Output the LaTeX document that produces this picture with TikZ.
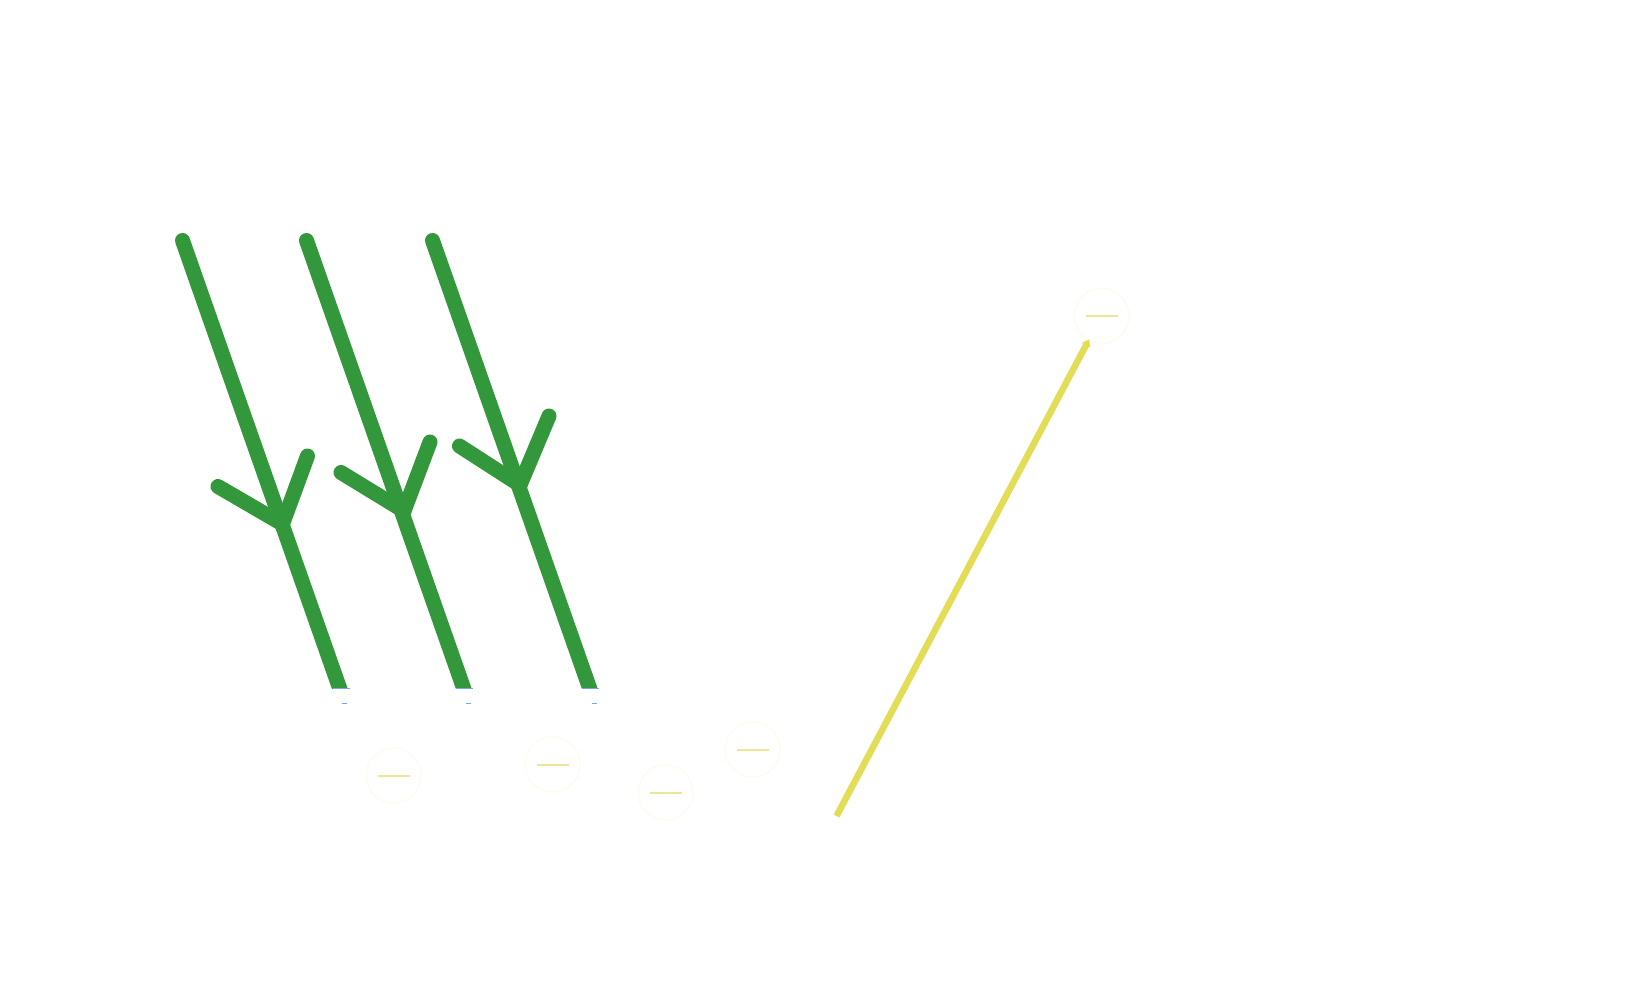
\documentclass[tikz,border=0pt]{standalone}
\usetikzlibrary{arrows.meta}
\definecolor{treegreen}{RGB}{51,152,59}
\definecolor{wireyellow}{RGB}{227,220,85}
\definecolor{dashyellow}{RGB}{236,230,150}
\definecolor{ringpale}{RGB}{253,252,243}
\definecolor{edgeblue}{RGB}{120,165,240}
\tikzset{
  stem/.style={line width=15pt, color=treegreen, line cap=round},
  twig/.style={line width=15pt, color=treegreen, line cap=round},
  ring/.style={circle, draw=ringpale, line width=2pt, minimum size=55pt, inner sep=0pt},
  bar/.style={line width=2pt, color=dashyellow},
  wire/.style={line width=6.5pt, color=wireyellow, -{Stealth[length=7pt,width=10pt]}, shorten >=-2pt},
  bluetick/.style={line width=1pt, color=edgeblue},
}
\begin{document}
\begin{tikzpicture}[x=1pt,y=-1pt]
\useasboundingbox (0,0) rectangle (1645,984);
% tree coordinates
\coordinate (t1top) at (182.5,240.5);
\coordinate (t1bot) at (345.5,705);
\coordinate (t1j) at (282.5,524);
\coordinate (t1l) at (218,486.5);
\coordinate (t1r) at (307.5,456);
\coordinate (t2top) at (306.5,240.5);
\coordinate (t2bot) at (469.5,705);
\coordinate (t2j) at (404,511);
\coordinate (t2l) at (341,472.5);
\coordinate (t2r) at (430,442);
\coordinate (t3top) at (432.5,240.5);
\coordinate (t3bot) at (595.5,705);
\coordinate (t3j) at (520,485);
\coordinate (t3l) at (459.5,446);
\coordinate (t3r) at (549,416);
\begin{scope}
  \clip (0,0) rectangle (1645,688.5);
  \draw[stem] (t1top) -- (t1bot);
  \draw[stem] (t2top) -- (t2bot);
  \draw[stem] (t3top) -- (t3bot);
\end{scope}
\draw[twig] (t1l) -- (t1j);
\draw[twig] (t1r) -- (t1j);
\draw[twig] (t2l) -- (t2j);
\draw[twig] (t2r) -- (t2j);
\draw[twig] (t3l) -- (t3j);
\draw[twig] (t3r) -- (t3j);
% blue marks at the cut ends
\coordinate (b1) at (341.5,688.5);
\coordinate (b2) at (464.5,688.5);
\coordinate (b3) at (590.5,688.5);
\draw[bluetick] ([xshift=-8.5]b1) -- ([xshift=8.5]b1);
\draw[bluetick] ([xshift=-8.5]b2) -- ([xshift=8.5]b2);
\draw[bluetick] ([xshift=-8.5]b3) -- ([xshift=8.5]b3);
\draw[bluetick] ([xshift=0,yshift=-14.5]b1) -- ([xshift=5,yshift=-14.5]b1);
\draw[bluetick] ([xshift=1,yshift=-14.5]b2) -- ([xshift=6,yshift=-14.5]b2);
\draw[bluetick] ([xshift=1,yshift=-14.5]b3) -- ([xshift=6,yshift=-14.5]b3);
% rings with bars
\node[ring] (c1) at (393.5,775.5) {};
\node[ring] (c2) at (552.5,764.5) {};
\node[ring] (c3) at (665.5,792.5) {};
\node[ring] (c4) at (752.5,749.5) {};
\node[ring] (c5) at (1101.5,316) {};
\foreach \c in {c1,c2,c3,c4,c5}{
  \draw[bar] ([xshift=-16]\c.center) -- ([xshift=16]\c.center);
}
% yellow wire
\coordinate (ws) at (836.5,816);
\draw[wire] (ws) -- (c5);
\end{tikzpicture}
\end{document}
